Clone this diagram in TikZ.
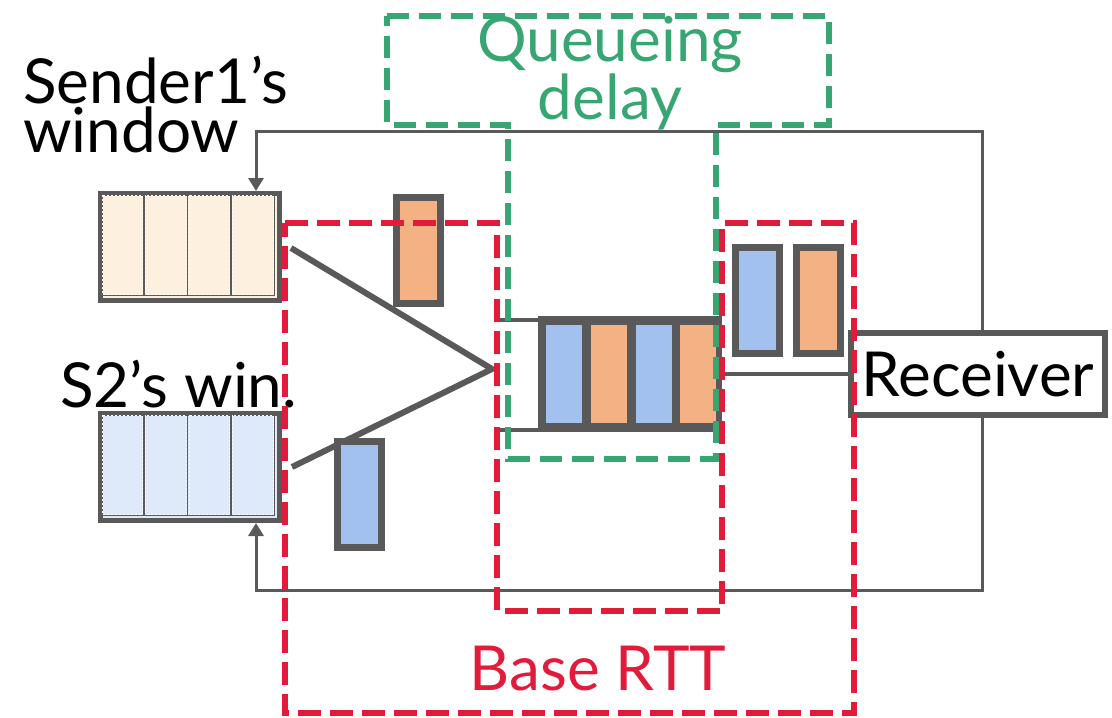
\documentclass[tikz,border=0pt]{standalone}
\usepackage{fontspec}
\setmainfont{Lato}
\usetikzlibrary{arrows.meta,calc}

\definecolor{ink}{HTML}{595959}
\definecolor{peach}{HTML}{FEF0DF}
\definecolor{paleblue}{HTML}{DEE9F9}
\definecolor{pktblue}{HTML}{A2C1EE}
\definecolor{pktorange}{HTML}{F4B183}
\definecolor{rttred}{HTML}{E31B3B}
\definecolor{qgreen}{HTML}{37A672}

\tikzset{
  win/.style={draw=ink, line width=5pt, minimum width=179pt, minimum height=107pt, inner sep=0pt},
  cellrule/.style={draw=ink, line width=1.8pt},
  celldash/.style={draw=white, line width=0.8pt, dash pattern=on 2pt off 2pt},
  pkt/.style={draw=ink, line width=7pt, minimum width=44pt, minimum height=106pt, inner sep=0pt},
  qslot/.style={minimum width=36pt, minimum height=98pt, inner sep=0pt},
  fb/.style={draw=ink, line width=3pt},
  fbtip/.style={-{Triangle[width=15pt,length=13pt]}},
  funnel/.style={draw=ink, line width=6pt},
  pipe/.style={draw=ink, line width=4.5pt},
  rttline/.style={draw=rttred, line width=6pt, dash pattern=on 23pt off 9pt},
  qline/.style={draw=qgreen, line width=5.5pt, dash pattern=on 22pt off 10pt},
  lbl/.style={font=\fontsize{62}{49}\selectfont, inner sep=0pt},
}

\begin{document}
\begin{tikzpicture}[x=1pt,y=-1pt]
\useasboundingbox (0,0) rectangle (1112,718);

% sender windows
\node[win, fill=peach] (w1) at (190,247) {};
\node[win, fill=paleblue] (w2) at (190,467) {};
\foreach \w in {w1,w2}{
  \foreach \i in {0,1,2,3}{
    \draw[cellrule] ($(\w.north west)+(2.5+\i*43.5,2.5)$) rectangle ++(43.5,102);
    \draw[celldash] ($(\w.north west)+(4+\i*43.5,4)$) rectangle ++(40.5,99);
  }
}

% feedback paths from the receiver
\coordinate (topR) at (982,131);
\coordinate (topL) at (256,131);
\coordinate (botR) at (982,590);
\coordinate (botL) at (256,590);

% receiver
\node[draw=ink, line width=6pt, fill=white, minimum width=254pt, minimum height=82pt,
      inner sep=0pt, font=\fontsize{62}{49}\selectfont] (rcv) at (978,374) {Receiver};

\draw[fb,fbtip] (rcv.north -| topR) -- (topR) -- (topL) -- (w1.north -| topL);
\draw[fb,fbtip] (rcv.south -| botR) -- (botR) -- (botL) -- (w2.south -| botL);

% funnel into the bottleneck
\coordinate (apex) at (492,369);
\draw[funnel] ($(w1.east)+(9,1)$) -- (apex) -- ($(w2.east)+(10,0)$);

% packets in flight
\node[pkt, fill=pktorange] (p1) at (418.5,250) {};
\node[pkt, fill=pktblue]   (p2) at (359.5,494) {};
\node[pkt, fill=pktblue]   (p3) at (757.5,300) {};
\node[pkt, fill=pktorange] (p4) at (818,300) {};

% bottleneck queue
\node[fill=ink, minimum width=184pt, minimum height=116pt, inner sep=0pt] (q) at (630,374) {};
\node[qslot, fill=pktblue]   (q1) at (564,374) {};
\node[qslot, fill=pktorange] (q2) at (609,374) {};
\node[qslot, fill=pktblue]   (q3) at (653.5,374) {};
\node[qslot, fill=pktorange] (q4) at (698,374) {};
\coordinate (pinT) at (498,320);
\coordinate (pinB) at (498,430);
\draw[pipe] (pinT) -- (pinT -| q.west);
\draw[pipe] (pinB) -- (pinB -| q.west);
\draw[pipe] (q.east) -- (rcv.west);

% labels (base anchor sits on the last line)
\node[lbl, anchor=base west, align=left] (l1) at (23,152) {Sender1’s\\window};
\node[lbl, anchor=base west] (l2) at (60,407) {S2’s win.};
\node[lbl, anchor=base, align=center, text=qgreen] (l3) at (610,119) {Queueing\\delay};
\node[lbl, anchor=base, text=rttred] (l4) at (598,690) {Base RTT};

% queueing delay region
\draw[qline] (387,16) -- (829,16) -- (829,125) -- (716,125) -- (716,459)
  -- (508,459) -- (508,125) -- (387,125) -- cycle;

% base RTT region
\draw[rttline] (285,223) -- (497,223) -- (497,611) -- (722,611) -- (722,223)
  -- (854,223) -- (854,713) -- (285,713) -- cycle;
\end{tikzpicture}
\end{document}
